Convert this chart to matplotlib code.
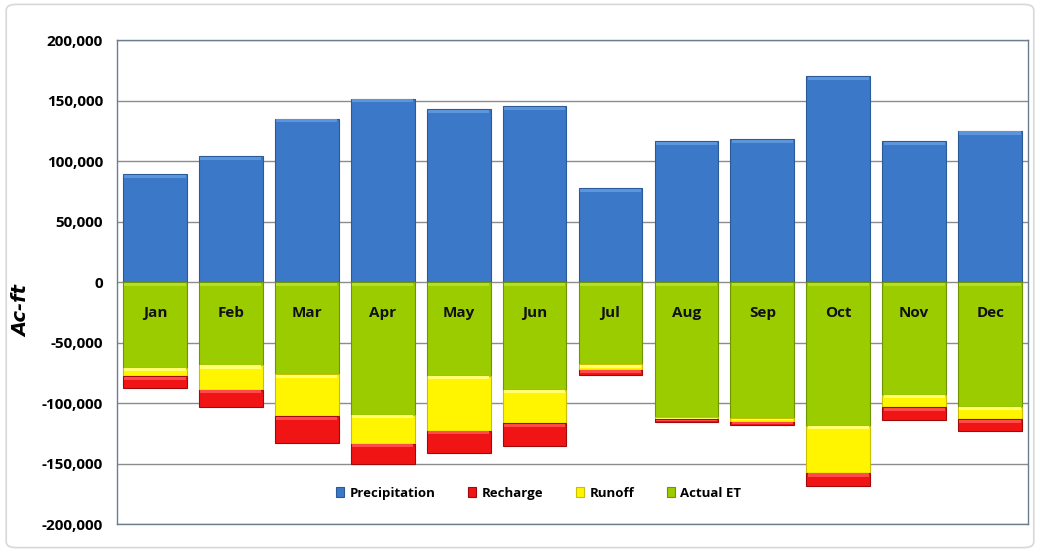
import matplotlib
matplotlib.use("Agg")
import matplotlib.pyplot as plt
from matplotlib.patches import FancyBboxPatch
from matplotlib.ticker import FuncFormatter, MultipleLocator
import numpy as np

plt.rcParams["font.family"] = ["Open Sans", "DejaVu Sans"]

MONTHS = ["Jan", "Feb", "Mar", "Apr", "May", "Jun",
          "Jul", "Aug", "Sep", "Oct", "Nov", "Dec"]
# monthly water budget, acre-feet (outflows plotted as negatives)
PRECIP = [89000, 104000, 135000, 151500, 142700, 145200,
          77600, 116300, 118000, 170200, 116300, 124800]
ACTUAL_ET = [70800, 68500, 76200, 109700, 77300, 89100,
             67900, 111600, 112500, 118800, 93200, 102900]
RUNOFF = [6900, 20500, 34900, 24000, 45600, 27500,
          4700, 1700, 2800, 39000, 10200, 10400]
RECHARGE = [10200, 13900, 22000, 16700, 18400, 19300,
            4100, 2200, 2700, 10500, 11000, 9600]

COLORS = {"Precipitation": "#3B78C8", "Recharge": "#F01414",
          "Runoff": "#FFF500", "Actual ET": "#9BCC00"}
EDGES = {"Precipitation": "#2A5A98", "Recharge": "#A00A0A",
         "Runoff": "#C8C000", "Actual ET": "#6E9400"}
HILITE = {"Precipitation": "#5C95DC", "Recharge": "#FF4A4A",
          "Runoff": "#FFFF70", "Actual ET": "#B4DE2C"}

fig = plt.figure(figsize=(10.4, 5.52), dpi=100)
fig.patches.append(FancyBboxPatch((0.006, 0.008), 0.988, 0.984,
                                  boxstyle="round,pad=0,rounding_size=0.01",
                                  transform=fig.transFigure, fill=False,
                                  edgecolor="#D8D8D8", lw=1.2))
ax = fig.add_axes([0.1125, 0.0507, 0.876, 0.8768])

x = np.arange(len(MONTHS))
w = 0.84
et = -np.array(ACTUAL_ET, float)
ro = -np.array(RUNOFF, float)
rc = -np.array(RECHARGE, float)

segments = [
    ("Precipitation", np.array(PRECIP, float), np.zeros(12)),
    ("Actual ET", et, np.zeros(12)),
    ("Runoff", ro, et),
    ("Recharge", rc, et + ro),
]
handles = {}
for name, h, b in segments:
    bars = ax.bar(x, h, w, bottom=b, color=COLORS[name],
                  edgecolor=EDGES[name], linewidth=0.8, zorder=3)
    handles[name] = bars
    # bevel: light strip along the top edge of each segment
    top = np.maximum(b, b + h)
    strip = np.minimum(np.abs(h) * 0.5, 2600)
    ax.bar(x, -strip, w * 0.96, bottom=top - 400, color=HILITE[name],
           linewidth=0, zorder=4)

for xi, m in zip(x, MONTHS):
    ax.text(xi, -26000, m, ha="center", va="center", fontsize=11,
            fontweight="bold", color="#111111", zorder=5)

ax.set_xlim(-0.5, 11.5)
ax.set_ylim(-200000, 200000)
ax.yaxis.set_major_locator(MultipleLocator(50000))
ax.yaxis.set_major_formatter(FuncFormatter(lambda v, p: f"{int(v):,}"))
ax.set_xticks([])
ax.tick_params(axis="y", length=0, pad=10, labelsize=11)
for lab in ax.get_yticklabels():
    lab.set_fontweight("bold")
ax.grid(axis="y", color="#8C8C8C", lw=1, zorder=0)
for s in ax.spines.values():
    s.set_color("#6C7D90")
    s.set_linewidth(1)
ax.set_ylabel("Ac-ft", fontsize=14, fontweight="bold", fontstyle="italic",
              family=["DejaVu Sans"])
ax.yaxis.set_label_coords(-0.094, 0.44)

order = ["Precipitation", "Recharge", "Runoff", "Actual ET"]
ax.legend([handles[n] for n in order], order, loc="center",
          bbox_to_anchor=(0.463, 0.064), ncol=4, frameon=False,
          prop={"weight": "bold", "size": 9.5}, handlelength=0.6,
          handleheight=0.7, columnspacing=2.5, handletextpad=0.4)

fig.savefig("out.png", dpi=100)
